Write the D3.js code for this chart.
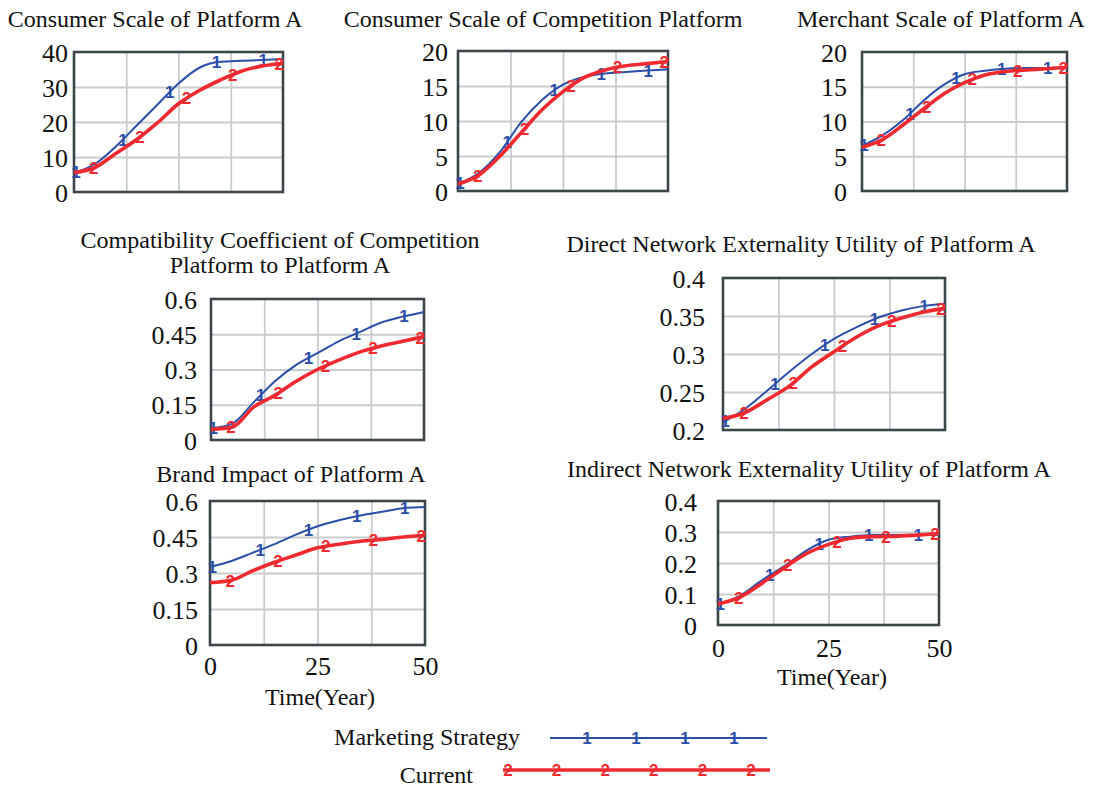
<!DOCTYPE html>
<html>
<head>
<meta charset="utf-8">
<script src="https://cdn.jsdelivr.net/npm/d3@7"></script>
<style>
  html, body { margin: 0; padding: 0; background: #ffffff; }
  svg { display: block; }
  text { font-family: "Liberation Serif", "Times New Roman", serif; fill: #111; }
  .mark { font-family: "Liberation Sans", Arial, sans-serif; }
</style>
</head>
<body>
<svg id="chart" width="1093" height="790"></svg>
<script>
// ---------------- DATA ----------------
const years = [0, 5, 10, 15, 20, 25, 30, 35, 40, 45, 50];
const seriesNames = ["Marketing Strategy", "Current"];

const consumerA_strategy = [5.5, 8, 13, 19, 25, 31, 35.5, 37.2, 37.5, 37.7, 38];
const consumerA_current  = [5.5, 7, 11, 15, 19.8, 25.2, 29, 32, 34.5, 36, 36.8];

const consumerComp_strategy = [1, 2.6, 5.6, 9.8, 13, 15.2, 16.3, 16.8, 17, 17.2, 17.4];
const consumerComp_current  = [1, 2.3, 5, 8.3, 11.6, 14.2, 16.2, 17.3, 17.9, 18.2, 18.5];

const merchantA_strategy = [6.5, 8, 10.2, 13, 15.3, 16.8, 17.3, 17.6, 17.7, 17.7, 17.8];
const merchantA_current  = [6.3, 7.4, 9.5, 11.8, 14.0, 15.6, 16.7, 17.2, 17.4, 17.6, 17.8];

const compat_strategy = [0.05, 0.07, 0.16, 0.25, 0.32, 0.37, 0.42, 0.46, 0.5, 0.525, 0.545];
const compat_current  = [0.045, 0.055, 0.14, 0.19, 0.25, 0.3, 0.34, 0.375, 0.4, 0.42, 0.44];

const directNE_strategy = [0.21, 0.228, 0.252, 0.277, 0.3, 0.32, 0.335, 0.348, 0.357, 0.363, 0.366];
const directNE_current  = [0.215, 0.223, 0.24, 0.258, 0.283, 0.303, 0.322, 0.337, 0.347, 0.355, 0.36];

const brand_strategy = [0.325, 0.35, 0.385, 0.42, 0.46, 0.495, 0.52, 0.54, 0.555, 0.57, 0.575];
const brand_current  = [0.26, 0.27, 0.31, 0.345, 0.375, 0.405, 0.42, 0.432, 0.44, 0.45, 0.457];

const indirectNE_strategy = [0.065, 0.095, 0.145, 0.19, 0.24, 0.275, 0.285, 0.29, 0.29, 0.29, 0.29];
const indirectNE_current  = [0.068, 0.09, 0.135, 0.185, 0.23, 0.26, 0.28, 0.285, 0.286, 0.29, 0.295];

// marker times along each line
const strategyMarkerT = [0.5, 11.7, 22.9, 34.1, 45.3];
const currentMarkerT  = [4.7, 15.8, 26.9, 38, 49.1];

// tick labels
const ticks0to40 = [0, 10, 20, 30, 40];
const ticks0to20 = [0, 5, 10, 15, 20];
const ticks0to06 = [0, 0.15, 0.3, 0.45, 0.6];
const ticks02to04 = [0.2, 0.25, 0.3, 0.35, 0.4];
const ticks0to04 = [0, 0.1, 0.2, 0.3, 0.4];
const xTicks = [0, 25, 50];
const xGrid = [12.5, 25, 37.5];
const xLabel = "Time(Year)";

const titles = [
  ["Consumer Scale of Platform A"],
  ["Consumer Scale of Competition Platform"],
  ["Merchant Scale of Platform A"],
  ["Compatibility Coefficient of Competition", "Platform to Platform A"],
  ["Direct Network Externality Utility of Platform A"],
  ["Brand Impact of Platform A"],
  ["Indirect Network Externality Utility of Platform A"]
];

// ---------------- STYLE / LAYOUT ----------------
const SERIF = '"Liberation Serif", "Times New Roman", serif';
const colors = ["#2b4ea8", "#ee2a30"];
const widths = [2, 3.6];
const markChars = ["1", "2"];

const panels = [
  { x0: 74,  x1: 283, y0: 52,  y1: 192, gap: 6,  tx: 155, ty: 27,  ticks: ticks0to40,  s: consumerA_strategy,    c: consumerA_current },
  { x0: 458, x1: 668, y0: 51,  y1: 191, gap: 10, tx: 543, ty: 27,  ticks: ticks0to20,  s: consumerComp_strategy, c: consumerComp_current },
  { x0: 862, x1: 1067,y0: 52,  y1: 191, gap: 15, tx: 941, ty: 27,  ticks: ticks0to20,  s: merchantA_strategy,    c: merchantA_current },
  { x0: 211, x1: 424, y0: 299, y1: 440, gap: 14, tx: 280, ty: 248, ticks: ticks0to06,  s: compat_strategy,       c: compat_current },
  { x0: 723, x1: 945, y0: 278, y1: 430, gap: 18, tx: 801, ty: 252, ticks: ticks02to04, s: directNE_strategy,     c: directNE_current },
  { x0: 210, x1: 425, y0: 501, y1: 645, gap: 12, tx: 291, ty: 482, ticks: ticks0to06,  s: brand_strategy,        c: brand_current, xAxis: { ty: 675, lx: 320, ly: 705 } },
  { x0: 718, x1: 939, y0: 501, y1: 625, gap: 21, tx: 809, ty: 477, ticks: ticks0to04,  s: indirectNE_strategy,   c: indirectNE_current, xAxis: { ty: 657, lx: 832, ly: 685 } }
];

const svg = d3.select("#chart");

function pointAtX(pathNode, targetX) {
  const total = pathNode.getTotalLength();
  let lo = 0, hi = total;
  for (let i = 0; i < 40; i++) {
    const mid = (lo + hi) / 2;
    const p = pathNode.getPointAtLength(mid);
    if (p.x < targetX) lo = mid; else hi = mid;
  }
  return pathNode.getPointAtLength((lo + hi) / 2);
}

function addMarker(parent, px, py, si) {
  parent.append("text")
    .attr("class", "mark")
    .attr("x", px).attr("y", py)
    .attr("text-anchor", "middle").attr("dy", "0.36em")
    .attr("font-family", '"Liberation Sans", Arial, sans-serif')
    .attr("font-size", 17)
    .style("font-weight", "bold")
    .style("fill", colors[si])
    .text(markChars[si]);
}

panels.forEach((p, i) => {
  const g = svg.append("g");
  const w = p.x1 - p.x0, h = p.y1 - p.y0;
  const x = d3.scaleLinear().domain([0, 50]).range([p.x0, p.x1]);
  const y = d3.scaleLinear().domain([p.ticks[0], p.ticks[p.ticks.length - 1]]).range([p.y1, p.y0]);

  // title
  const tt = g.append("text")
    .attr("x", p.tx).attr("y", p.ty)
    .attr("text-anchor", "middle")
    .attr("font-family", SERIF)
    .attr("font-size", 24);
  titles[i].forEach((line, k) => {
    tt.append("tspan").attr("x", p.tx).attr("dy", k === 0 ? 0 : 25).text(line);
  });

  // grid
  const gy = g.append("g").attr("transform", `translate(${p.x0},0)`)
    .call(d3.axisLeft(y).tickValues(p.ticks.slice(1, -1)).tickSize(-w).tickFormat(""));
  gy.select(".domain").remove();
  gy.selectAll("line").attr("stroke", "#c9cccc").attr("stroke-width", 1.8);

  const gx = g.append("g").attr("transform", `translate(0,${p.y1})`)
    .call(d3.axisBottom(x).tickValues(xGrid).tickSize(-h).tickFormat(""));
  gx.select(".domain").remove();
  gx.selectAll("line").attr("stroke", "#c9cccc").attr("stroke-width", 1.8);

  // y tick labels
  const ya = g.append("g").attr("transform", `translate(${p.x0},0)`)
    .call(d3.axisLeft(y).tickValues(p.ticks).tickSize(0).tickPadding(p.gap).tickFormat(d => String(d)));
  ya.attr("font-family", SERIF).attr("font-size", 26);
  ya.select(".domain").remove();
  ya.selectAll("text").attr("font-family", SERIF).attr("font-size", 26)
    .style("fill", "#111").attr("dy", "0.35em");

  // x tick labels
  if (p.xAxis) {
    const xa = g.append("g").attr("transform", `translate(0,${p.y1})`)
      .call(d3.axisBottom(x).tickValues(xTicks).tickSize(0).tickPadding(0).tickFormat(d => String(d)));
    xa.attr("font-family", SERIF).attr("font-size", 26);
    xa.select(".domain").remove();
    xa.selectAll("text").attr("font-family", SERIF).attr("font-size", 26)
      .style("fill", "#111")
      .attr("y", p.xAxis.ty - p.y1).attr("dy", 0);
    g.append("text").attr("x", p.xAxis.lx).attr("y", p.xAxis.ly)
      .attr("text-anchor", "middle").attr("font-family", SERIF).attr("font-size", 24).text(xLabel);
  }

  // frame
  g.append("rect").attr("x", p.x0).attr("y", p.y0).attr("width", w).attr("height", h)
    .attr("fill", "none").attr("stroke", "#3a4649").attr("stroke-width", 2.6);

  // lines
  const line = d3.line().x((d, k) => x(years[k])).y(d => y(d)).curve(d3.curveMonotoneX);
  [p.s, p.c].forEach((vals, si) => {
    const path = g.append("path").datum(vals)
      .attr("d", line)
      .attr("fill", "none")
      .attr("stroke", colors[si])
      .attr("stroke-width", widths[si])
      .attr("stroke-linejoin", "round");
    const node = path.node();
    const mts = si === 0 ? strategyMarkerT : currentMarkerT;
    mts.forEach(t => {
      const pt = pointAtX(node, x(t));
      addMarker(g, pt.x, pt.y, si);
    });
  });
});

// ---------------- LEGEND ----------------
const legend = [
  { textX: 520, textY: 745, lineX0: 550, lineX1: 767, lineY: 738, first: 587, step: 49, count: 4 },
  { textX: 473, textY: 783, lineX0: 503, lineX1: 770, lineY: 770, first: 508, step: 48.6, count: 6 }
];
legend.forEach((L, si) => {
  svg.append("text").attr("x", L.textX).attr("y", L.textY)
    .attr("text-anchor", "end").attr("font-family", SERIF).attr("font-size", 24).text(seriesNames[si]);
  svg.append("line").attr("x1", L.lineX0).attr("x2", L.lineX1)
    .attr("y1", L.lineY).attr("y2", L.lineY)
    .attr("stroke", colors[si]).attr("stroke-width", widths[si]);
  d3.range(L.count).forEach(k => addMarker(svg, L.first + k * L.step, L.lineY, si));
});
</script>
</body>
</html>
